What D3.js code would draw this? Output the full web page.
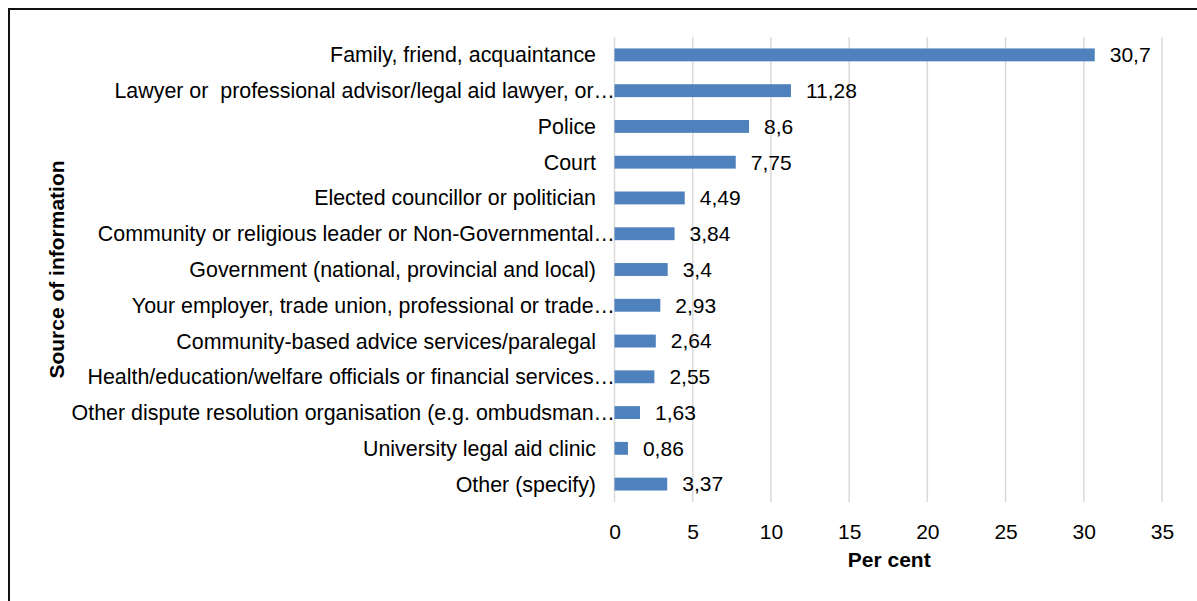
<!DOCTYPE html>
<html>
<head>
<meta charset="utf-8">
<script src="https://cdn.jsdelivr.net/npm/d3@7"></script>
<style>
  html, body { margin: 0; padding: 0; background: #fff; }
  svg { display: block; font-family: "Liberation Sans", Arial, sans-serif; }
  text { white-space: pre; }
</style>
</head>
<body>
<svg id="chart" width="1197" height="601"></svg>
<script>
// Sources of information (top to bottom) and their share in per cent
const categories = [
  "Family, friend, acquaintance",
  "Lawyer or  professional advisor/legal aid lawyer, or…",
  "Police",
  "Court",
  "Elected councillor or politician",
  "Community or religious leader or Non-Governmental…",
  "Government (national, provincial and local)",
  "Your employer, trade union, professional or trade…",
  "Community-based advice services/paralegal",
  "Health/education/welfare officials or financial services…",
  "Other dispute resolution organisation (e.g. ombudsman…",
  "University legal aid clinic",
  "Other (specify)"
];
const values = [30.7, 11.28, 8.6, 7.75, 4.49, 3.84, 3.4, 2.93, 2.64, 2.55, 1.63, 0.86, 3.37];
const valueLabels = ["30,7", "11,28", "8,6", "7,75", "4,49", "3,84", "3,4", "2,93", "2,64", "2,55", "1,63", "0,86", "3,37"];
const xTicks = [0, 5, 10, 15, 20, 25, 30, 35];
const xTitle = "Per cent";
const yTitle = "Source of information";

const FS = 21;
const svg = d3.select("#chart");
const margin = { left: 614.5, right: 1162, top: 37, bottom: 502 };

// outer frame (left and top edges visible)
svg.append("path")
  .attr("d", "M9,601 V9 H1197")
  .attr("fill", "none")
  .attr("stroke", "#111")
  .attr("stroke-width", 2);

const x = d3.scaleLinear().domain([0, 35]).range([margin.left, margin.right]);
const y = d3.scaleBand().domain(categories).range([margin.top, margin.bottom]).paddingInner(0.64).paddingOuter(0.32);

// vertical gridlines
svg.append("g")
  .selectAll("line")
  .data(xTicks)
  .join("line")
  .attr("x1", d => x(d)).attr("x2", d => x(d))
  .attr("y1", margin.top).attr("y2", margin.bottom)
  .attr("stroke", "#d9d9d9")
  .attr("stroke-width", 1.5);

// bars
svg.append("g")
  .selectAll("rect")
  .data(values)
  .join("rect")
  .attr("x", x(0))
  .attr("y", (d, i) => y(categories[i]))
  .attr("width", d => x(d) - x(0))
  .attr("height", y.bandwidth())
  .attr("fill", "#4f81bd");

// value labels
svg.append("g")
  .selectAll("text")
  .data(values)
  .join("text")
  .attr("x", d => x(d) + 15)
  .attr("y", (d, i) => y(categories[i]) + y.bandwidth() / 2)
  .attr("dy", "0.35em")
  .attr("font-size", FS)
  .attr("fill", "#000")
  .text((d, i) => valueLabels[i]);

// category labels
svg.append("g")
  .selectAll("text")
  .data(categories)
  .join("text")
  .attr("x", d => d.endsWith("…") ? 615 : 596)
  .attr("y", d => y(d) + y.bandwidth() / 2)
  .attr("dy", "0.35em")
  .attr("text-anchor", "end")
  .attr("font-size", 21.4)
  .attr("fill", "#000")
  .text(d => d);

// x tick labels
const xAxis = d3.axisBottom(x).tickValues(xTicks).tickSize(0).tickPadding(0).tickFormat(d3.format("d"));
const gx = svg.append("g").attr("transform", `translate(0,${margin.bottom})`).call(xAxis);
gx.select(".domain").remove();
gx.selectAll("text")
  .attr("y", 30)
  .attr("dy", "0.35em")
  .attr("font-size", FS)
  .attr("font-family", "Liberation Sans, Arial, sans-serif")
  .attr("fill", "#000");

// axis titles
svg.append("text")
  .attr("x", (margin.left + margin.right) / 2 + 1)
  .attr("y", 560)
  .attr("dy", "0.35em")
  .attr("text-anchor", "middle")
  .attr("font-size", FS)
  .attr("font-weight", "bold")
  .text(xTitle);

svg.append("text")
  .attr("transform", `translate(57,${(margin.top + margin.bottom) / 2}) rotate(-90)`)
  .attr("dy", "0.35em")
  .attr("text-anchor", "middle")
  .attr("font-size", FS)
  .attr("font-weight", "bold")
  .text(yTitle);
</script>
</body>
</html>
